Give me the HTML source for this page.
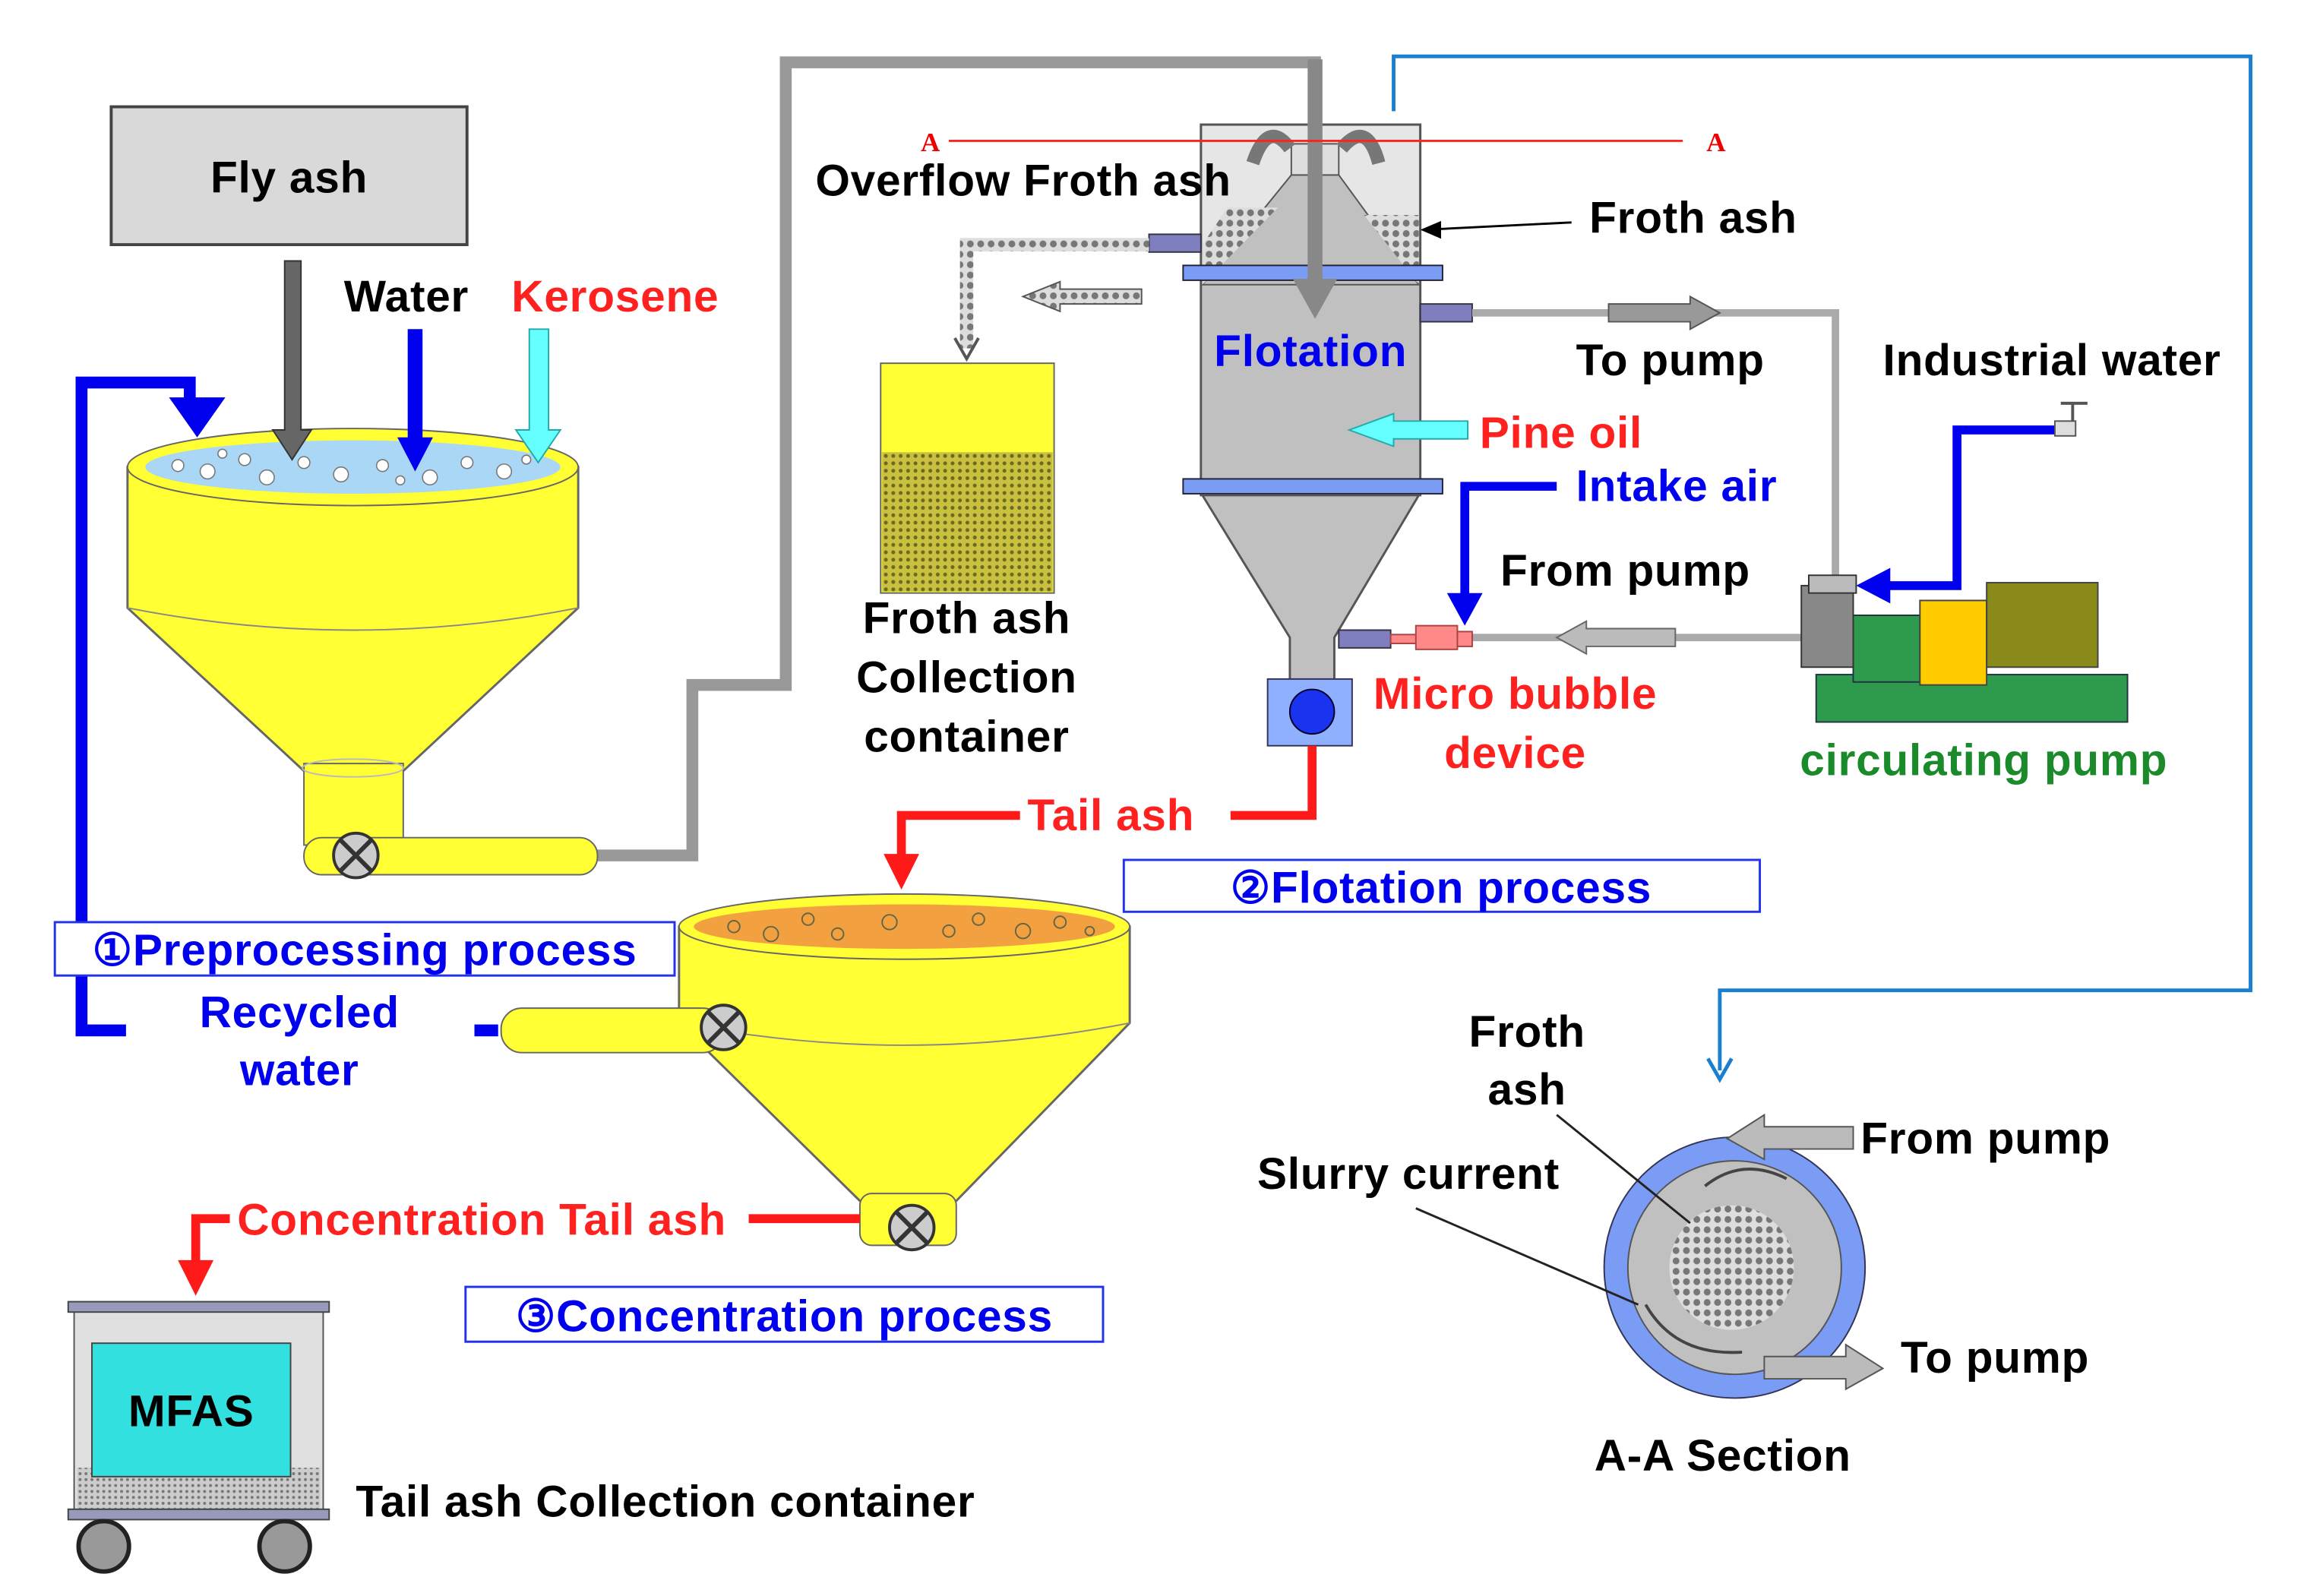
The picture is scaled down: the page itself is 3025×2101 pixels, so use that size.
<!DOCTYPE html>
<html><head><meta charset="utf-8"><style>
html,body{margin:0;padding:0;background:#fff}
svg{display:block}
text{font-family:"Liberation Sans",Arial,sans-serif;font-weight:bold;font-size:30px;letter-spacing:0.4px}
text.a{font-size:18px;font-family:"Liberation Serif",serif;letter-spacing:0}
</style></head><body>
<svg width="3025" height="2101" viewBox="0 0 1550 1076.5" xmlns="http://www.w3.org/2000/svg">
<defs>
<pattern id="dots" width="7" height="7" patternUnits="userSpaceOnUse"><rect width="7" height="7" fill="#ddd"/><circle cx="3.5" cy="3.5" r="2.3" fill="#777"/></pattern>
<pattern id="olive" width="5" height="5" patternUnits="userSpaceOnUse"><rect width="5" height="5" fill="#c9c040"/><circle cx="2.5" cy="2.5" r="1.3" fill="#6b6a20"/></pattern>
<pattern id="fine" width="4" height="4" patternUnits="userSpaceOnUse"><rect width="4" height="4" fill="#ccc"/><circle cx="2" cy="2" r="1" fill="#777"/></pattern>
</defs>
<rect width="1550" height="1077" fill="#fff"/>

<polyline points="940,75 940,38 1518,38 1518,668 1160,668 1160,722" fill="none" stroke="#1a7fd0" stroke-width="2.5"/>
<polyline points="1152,714 1160,728 1168,714" fill="none" stroke="#1a7fd0" stroke-width="2.5"/>

<polyline points="400,577 467,577 467,462 530,462 530,42 887,42 887,200" fill="none" stroke="#999" stroke-width="8"/>

<rect x="75" y="72" width="240" height="93" fill="#d9d9d9" stroke="#444" stroke-width="2"/>
<text x="195" y="130" text-anchor="middle">Fly ash</text>
<text x="232" y="210">Water</text>
<text x="345" y="210" fill="#ff2020">Kerosene</text>

<polyline points="336,695 320,695" stroke="#0000ee" stroke-width="8"/>
<polyline points="85,695 55,695 55,258 128,258 128,275" fill="none" stroke="#0000ee" stroke-width="8"/>
<polygon points="114,268 152,268 133,295" fill="#0000ee"/>

<!-- Hopper 1 -->
<polygon points="86,315 390,315 390,410 272,520 205,520 86,410" fill="#ffff33" stroke="#666" stroke-width="1.5"/>
<path d="M86,410 Q238,440 390,410" fill="none" stroke="#888" stroke-width="1"/>
<rect x="205" y="515" width="67" height="55" fill="#ffff33" stroke="#666"/>
<ellipse cx="238" cy="518" rx="34" ry="6" fill="none" stroke="#bbb"/>
<ellipse cx="238" cy="315" rx="152" ry="26" fill="#ffff33" stroke="#666"/>
<ellipse cx="238" cy="315" rx="140" ry="18" fill="#a9d7f5"/>
<g fill="#fff" stroke="#777" stroke-width="0.8">
<circle cx="120" cy="314" r="4"/><circle cx="140" cy="318" r="5"/><circle cx="165" cy="310" r="4"/><circle cx="180" cy="322" r="5"/><circle cx="205" cy="312" r="4"/><circle cx="230" cy="320" r="5"/><circle cx="258" cy="314" r="4"/><circle cx="290" cy="322" r="5"/><circle cx="315" cy="312" r="4"/><circle cx="340" cy="318" r="5"/><circle cx="355" cy="310" r="3"/><circle cx="150" cy="306" r="3"/><circle cx="270" cy="324" r="3"/>
</g>
<polygon points="192,176 203,176 203,290 210,290 197,310 184,290 192,290" fill="#666" stroke="#333"/>
<polygon points="275,222 285,222 285,295 292,295 280,318 268,295 275,295" fill="#0000ee"/>
<polygon points="357,222 370,222 370,290 378,290 363,312 348,290 357,290" fill="#66ffff" stroke="#2aa"/>
<rect x="205" y="565" width="198" height="25" rx="12" fill="#ffff33" stroke="#666"/>
<circle cx="240" cy="577" r="15" fill="#ccc" stroke="#333" stroke-width="2"/>
<path d="M230,567 L250,587 M250,567 L230,587" stroke="#333" stroke-width="3"/>

<!-- Flotation column -->
<rect x="810" y="84" width="148" height="250" fill="#c0c0c0" stroke="#555" stroke-width="1.5"/>
<polygon points="811,85 957,85 957,192 811,192" fill="#e6e6e6"/>
<polygon points="811,192 871,118 903,118 957,192" fill="#c0c0c0" stroke="#555"/>
<polygon points="811,192 811,165 828,140 862,140" fill="url(#dots)"/>
<polygon points="957,192 957,145 920,145" fill="url(#dots)"/>
<rect x="871" y="97" width="32" height="21" fill="#ddd" stroke="#555"/>
<path d="M870,100 Q855,80 845,110" fill="none" stroke="#777" stroke-width="9"/>
<path d="M905,100 Q922,80 930,110" fill="none" stroke="#777" stroke-width="9"/>
<rect x="798" y="179" width="175" height="10" fill="#7b9cf5" stroke="#223"/>
<rect x="798" y="323" width="175" height="10" fill="#7b9cf5" stroke="#223"/>
<polygon points="811,334 957,334 900,430 900,460 870,460 870,430" fill="#c0c0c0" stroke="#555" stroke-width="1.5"/>
<rect x="882" y="40" width="10" height="150" fill="#888"/>
<polygon points="872,188 902,188 887,215" fill="#888"/>
<text x="884" y="247" fill="#0000ee" text-anchor="middle">Flotation</text>
<rect x="855" y="458" width="57" height="45" fill="#8fb0ff" stroke="#335"/>
<circle cx="885" cy="480" r="15" fill="#1a33ee" stroke="#002"/>
<rect x="958" y="205" width="35" height="12" fill="#7f7fbf" stroke="#334"/>
<rect x="775" y="158" width="35" height="12" fill="#7f7fbf" stroke="#334"/>
<rect x="903" y="425" width="35" height="12" fill="#7f7fbf" stroke="#334"/>

<line x1="640" y1="95" x2="1135" y2="95" stroke="#f22" stroke-width="1.5"/>
<text class="a" x="621" y="102" fill="#e00">A</text>
<text class="a" x="1151" y="102" fill="#e00">A</text>
<text x="550" y="132">Overflow Froth ash</text>
<line x1="960" y1="155" x2="1060" y2="150" stroke="#000" stroke-width="1.5"/>
<polygon points="958,155 972,149 972,161" fill="#000"/>
<text x="1072" y="157">Froth ash</text>

<polyline points="775,165 652,165 652,235" fill="none" stroke="url(#dots)" stroke-width="9"/>
<polyline points="644,228 652,242 660,228" fill="none" stroke="#555" stroke-width="2"/>
<polygon points="770,195 715,195 715,190 690,200 715,210 715,205 770,205" fill="url(#dots)" stroke="#555"/>
<rect x="594" y="245" width="117" height="155" fill="#ffff33" stroke="#666"/>
<rect x="595" y="305" width="115" height="94" fill="url(#olive)"/>
<text x="652" y="427" text-anchor="middle">Froth ash</text>
<text x="652" y="467" text-anchor="middle">Collection</text>
<text x="652" y="507" text-anchor="middle">container</text>

<polyline points="993,211 1238,211 1238,390" fill="none" stroke="#aaa" stroke-width="5"/>
<polygon points="1085,205 1140,205 1140,200 1160,211 1140,222 1140,217 1085,217" fill="#999" stroke="#555"/>
<text x="1063" y="253">To pump</text>
<line x1="990" y1="430" x2="1215" y2="430" stroke="#aaa" stroke-width="5"/>
<polygon points="1130,424 1070,424 1070,419 1050,430 1070,441 1070,436 1130,436" fill="#bbb" stroke="#666"/>
<text x="1012" y="395">From pump</text>
<rect x="938" y="428" width="20" height="6" fill="#f88" stroke="#a44"/>
<rect x="955" y="422" width="28" height="16" fill="#f88" stroke="#a44"/>
<rect x="983" y="426" width="10" height="10" fill="#f88" stroke="#a44"/>
<text x="998" y="302" fill="#ff2020">Pine oil</text>
<polygon points="990,284 940,284 940,279 910,290 940,301 940,296 990,296" fill="#66ffff" stroke="#2aa"/>
<text x="1063" y="338" fill="#0000ee">Intake air</text>
<polyline points="1050,328 988,328 988,405" fill="none" stroke="#0000ee" stroke-width="6"/>
<polygon points="976,400 1000,400 988,422" fill="#0000ee"/>
<text x="1022" y="478" fill="#ff2020" text-anchor="middle">Micro bubble</text>
<text x="1022" y="518" fill="#ff2020" text-anchor="middle">device</text>

<text x="1270" y="253">Industrial water</text>
<polyline points="1390,290 1320,290 1320,395 1270,395" fill="none" stroke="#0000ee" stroke-width="6"/>
<polygon points="1275,383 1275,407 1252,395" fill="#0000ee"/>
<rect x="1386" y="284" width="14" height="10" fill="#ddd" stroke="#555"/>
<line x1="1398" y1="272" x2="1398" y2="284" stroke="#555" stroke-width="2"/>
<line x1="1390" y1="272" x2="1408" y2="272" stroke="#555" stroke-width="2"/>
<rect x="1225" y="455" width="210" height="32" fill="#2e9a4e" stroke="#234"/>
<rect x="1250" y="415" width="45" height="45" fill="#2e9a4e" stroke="#234"/>
<rect x="1295" y="405" width="45" height="57" fill="#ffcc00" stroke="#444"/>
<rect x="1340" y="393" width="75" height="57" fill="#8a8a1a" stroke="#444"/>
<rect x="1215" y="395" width="35" height="55" fill="#888" stroke="#333"/>
<rect x="1220" y="388" width="32" height="12" fill="#bbb" stroke="#333"/>
<text x="1338" y="523" fill="#1a8a2a" text-anchor="middle">circulating pump</text>

<polyline points="885,503 885,550 830,550" fill="none" stroke="#ff1a1a" stroke-width="6"/>
<text x="693" y="560" fill="#ff2020">Tail ash</text>
<polyline points="688,550 608,550 608,580" fill="none" stroke="#ff1a1a" stroke-width="6"/>
<polygon points="596,576 620,576 608,600" fill="#ff1a1a"/>

<rect x="758" y="580" width="429" height="35" fill="#fff" stroke="#2233ee" stroke-width="1.5"/>
<text x="972" y="609" fill="#0000ee" text-anchor="middle">②Flotation process</text>

<!-- Hopper 2 -->
<polygon points="458,625 762,625 762,690 645,810 580,810 458,690" fill="#ffff33" stroke="#666" stroke-width="1.5"/>
<path d="M458,690 Q610,720 762,690" fill="none" stroke="#888"/>
<rect x="580" y="805" width="65" height="35" rx="8" fill="#ffff33" stroke="#666"/>
<ellipse cx="610" cy="625" rx="152" ry="22" fill="#ffff33" stroke="#666"/>
<ellipse cx="610" cy="625" rx="142" ry="15" fill="#f2a040"/>
<g fill="none" stroke="#664" stroke-width="1">
<circle cx="495" cy="625" r="4"/><circle cx="520" cy="630" r="5"/><circle cx="545" cy="620" r="4"/><circle cx="565" cy="630" r="4"/><circle cx="600" cy="622" r="5"/><circle cx="640" cy="628" r="4"/><circle cx="660" cy="620" r="4"/><circle cx="690" cy="628" r="5"/><circle cx="715" cy="622" r="4"/><circle cx="735" cy="628" r="3"/>
</g>
<circle cx="615" cy="828" r="15" fill="#ccc" stroke="#333" stroke-width="2"/>
<path d="M605,818 L625,838 M625,818 L605,838" stroke="#333" stroke-width="3"/>
<rect x="338" y="680" width="150" height="30" rx="14" fill="#ffff33" stroke="#666"/>
<circle cx="488" cy="693" r="15" fill="#ccc" stroke="#333" stroke-width="2"/>
<path d="M478,683 L498,703 M498,683 L478,703" stroke="#333" stroke-width="3"/>

<rect x="37" y="622" width="418" height="36" fill="#fff" stroke="#2233ee" stroke-width="1.5"/>
<text x="246" y="651" fill="#0000ee" text-anchor="middle">①Preprocessing process</text>
<text x="202" y="693" fill="#0000ee" text-anchor="middle">Recycled</text>
<text x="202" y="732" fill="#0000ee" text-anchor="middle">water</text>

<polyline points="580,822 505,822" stroke="#ff1a1a" stroke-width="6"/>
<text x="160" y="833" fill="#ff2020">Concentration Tail ash</text>
<polyline points="155,822 132,822 132,855" fill="none" stroke="#ff1a1a" stroke-width="6"/>
<polygon points="120,850 144,850 132,874" fill="#ff1a1a"/>
<rect x="314" y="868" width="430" height="37" fill="#fff" stroke="#2233ee" stroke-width="1.5"/>
<text x="529" y="898" fill="#0000ee" text-anchor="middle">③Concentration process</text>

<rect x="50" y="880" width="168" height="140" fill="#e0e0e0" stroke="#555"/>
<rect x="52" y="990" width="164" height="28" fill="url(#fine)"/>
<rect x="46" y="878" width="176" height="7" fill="#99b" stroke="#444"/>
<rect x="46" y="1018" width="176" height="7" fill="#99b" stroke="#444"/>
<rect x="62" y="906" width="134" height="90" fill="#33e0e0" stroke="#444"/>
<text x="129" y="962" text-anchor="middle">MFAS</text>
<circle cx="70" cy="1043" r="17" fill="#999" stroke="#222" stroke-width="3"/>
<circle cx="192" cy="1043" r="17" fill="#999" stroke="#222" stroke-width="3"/>
<text x="240" y="1023">Tail ash Collection container</text>

<circle cx="1170" cy="855" r="88" fill="#7b9cf5" stroke="#335"/>
<circle cx="1170" cy="855" r="72" fill="#c0c0c0" stroke="#555"/>
<circle cx="1168" cy="855" r="42" fill="url(#dots)"/>
<path d="M1205,795 Q1175,780 1150,800" fill="none" stroke="#444" stroke-width="2"/>
<path d="M1110,880 Q1130,915 1175,912" fill="none" stroke="#444" stroke-width="2"/>
<polygon points="1250,760 1190,760 1190,752 1165,768 1190,782 1190,775 1250,775" fill="#bbb" stroke="#555"/>
<polygon points="1190,915 1245,915 1245,907 1270,923 1245,937 1245,930 1190,930" fill="#bbb" stroke="#555"/>
<text x="1030" y="706" text-anchor="middle">Froth</text>
<text x="1030" y="745" text-anchor="middle">ash</text>
<line x1="1050" y1="752" x2="1140" y2="825" stroke="#222" stroke-width="1.5"/>
<text x="848" y="802">Slurry current</text>
<line x1="955" y1="815" x2="1105" y2="880" stroke="#222" stroke-width="1.5"/>
<text x="1255" y="778">From pump</text>
<text x="1282" y="926">To pump</text>
<text x="1162" y="992" text-anchor="middle">A-A Section</text>
</svg>
</body></html>
